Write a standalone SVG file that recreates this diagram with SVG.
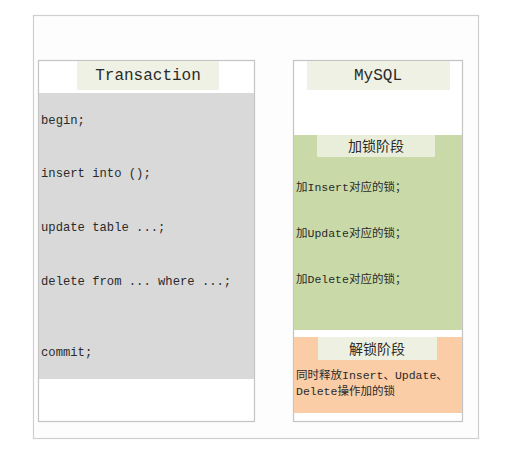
<svg xmlns="http://www.w3.org/2000/svg" width="531" height="464" viewBox="0 0 531 464">
<style>
.box{fill:#ffffff;stroke:#c4c4c4;stroke-width:1.2}
.band{fill:#eef1e4}
.title{font-family:"Liberation Mono","DejaVu Sans Mono",monospace;font-size:16px;fill:#2a2a2a;text-anchor:middle}
.code{font-family:"Liberation Mono","DejaVu Sans Mono",monospace;font-size:12.2px;fill:#2a2a2a}
.cn{font-family:"Liberation Mono","Noto Sans CJK SC",monospace;font-size:11.5px;fill:#2a2a2a}
.cnt{font-family:"Noto Sans CJK SC",sans-serif;font-size:14px;fill:#2a2a2a;text-anchor:middle}
</style>
<rect x="0" y="0" width="531" height="464" fill="#ffffff"/>
<rect id="frame" x="33.5" y="15.5" width="445" height="423" fill="#fdfdfd" stroke="#cfcfcf" stroke-width="1.2"/>
<g id="transaction">
  <rect class="box" x="38.5" y="60.5" width="216" height="361"/>
  <rect x="39" y="93" width="215" height="286" fill="#d9d9d9"/>
  <rect class="band" x="77" y="61" width="142" height="29"/>
  <text class="title" x="148" y="80">Transaction</text>
  <text class="code" x="41" y="124">begin;</text>
  <text class="code" x="41" y="177">insert into ();</text>
  <text class="code" x="41" y="231">update table ...;</text>
  <text class="code" x="41" y="285">delete from ... where ...;</text>
  <text class="code" x="41" y="356">commit;</text>
</g>
<g id="mysql">
  <rect class="box" x="293.5" y="60.5" width="169" height="361"/>
  <rect class="band" x="307" y="61" width="143" height="29"/>
  <text class="title" x="378" y="80">MySQL</text>
</g>
<g id="lock-phase">
  <rect x="294" y="135" width="168" height="195" fill="#c9daa8"/>
  <rect x="317" y="135" width="118" height="22" fill="#e9eedb"/>
  <text class="cnt" x="376" y="151">加锁阶段</text>
  <text class="cn" x="296" y="191">加Insert对应的锁；</text>
  <text class="cn" x="296" y="237">加Update对应的锁；</text>
  <text class="cn" x="296" y="283">加Delete对应的锁；</text>
</g>
<g id="unlock-phase">
  <rect x="294" y="337" width="168" height="76" fill="#fbcda6"/>
  <rect x="318" y="337" width="119" height="23" fill="#eef0e2"/>
  <text class="cnt" x="377" y="354">解锁阶段</text>
  <text class="cn" x="296" y="379">同时释放Insert、Update、</text>
  <text class="cn" x="296" y="395">Delete操作加的锁</text>
</g>
<g id="connectors"/>
</svg>
